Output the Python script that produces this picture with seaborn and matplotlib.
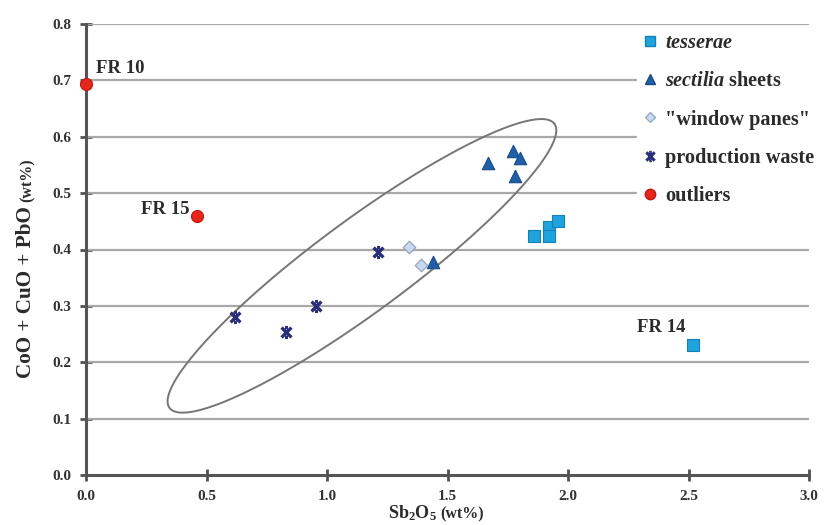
import numpy as np
import pandas as pd
import matplotlib
matplotlib.use("Agg")
import matplotlib.pyplot as plt
from matplotlib.path import Path
from matplotlib.lines import Line2D
import seaborn as sns

# ---------------- data ----------------
tesserae_x = [1.86, 1.92, 1.92, 1.96, 2.52]
tesserae_y = [0.424, 0.440, 0.424, 0.451, 0.231]

sectilia_x = [1.67, 1.77, 1.80, 1.78, 1.44]
sectilia_y = [0.554, 0.575, 0.563, 0.531, 0.378]

window_x = [1.34, 1.39]
window_y = [0.405, 0.373]

waste_x = [0.62, 0.83, 0.955, 1.21]
waste_y = [0.281, 0.254, 0.300, 0.396]

outlier_x = [0.0, 0.46]
outlier_y = [0.694, 0.460]

labels = ["tesserae", "sectilia sheets", '"window panes"', "production waste", "outliers"]
x_ticks = [0.0, 0.5, 1.0, 1.5, 2.0, 2.5, 3.0]
y_ticks = [0.0, 0.1, 0.2, 0.3, 0.4, 0.5, 0.6, 0.7, 0.8]

# annotated samples: (label, x, y)
annotations = [("FR 10", 0.0, 0.694), ("FR 15", 0.46, 0.460), ("FR 14", 2.52, 0.231)]

# ellipse (center, half major axis vector, half minor axis vector), data units
ell_center = (1.145, 0.371)
ell_major = (0.7985, 0.252)
ell_minor = (-0.113, 0.0657)

# ---------------- style ----------------
sns.set_style("white")
plt.rcParams["font.family"] = ["Liberation Serif", "DejaVu Serif"]
plt.rcParams["font.weight"] = "bold"
plt.rcParams["mathtext.fontset"] = "custom"
plt.rcParams["mathtext.rm"] = "Liberation Serif:bold"
plt.rcParams["mathtext.it"] = "Liberation Serif:italic"
plt.rcParams["mathtext.bf"] = "Liberation Serif:bold"

c_tess = "#1ea3dc"
c_sect = "#1f5fa8"
c_win = "#c9d9ef"
c_waste = "#2a2d78"
c_out = "#e5261c"
c_text = "#2b2b2b"

fig = plt.figure(figsize=(8.25, 5.25), dpi=100)
ax = fig.add_axes([86 / 825, 1 - 475 / 525, (809 - 86) / 825, (475 - 24) / 525])

# bold "x" marker with small flat caps
xverts = [(-1, -1), (1, 1), (-1, 1), (1, -1), (-0.3, 1), (0.3, 1), (-0.3, -1), (0.3, -1)]
xcodes = [Path.MOVETO, Path.LINETO] * 4
xmarker = Path(xverts, xcodes)

sns.scatterplot(x=tesserae_x, y=tesserae_y, marker="s", s=80, color=c_tess,
                edgecolor="#1580b8", linewidth=0.8, ax=ax, zorder=4, clip_on=False)
sns.scatterplot(x=sectilia_x, y=sectilia_y, marker="^", s=80, color=c_sect,
                edgecolor="#184a88", linewidth=0.8, ax=ax, zorder=4, clip_on=False)
sns.scatterplot(x=window_x, y=window_y, marker="D", s=40, color=c_win,
                edgecolor="#98aac4", linewidth=1.0, ax=ax, zorder=4, clip_on=False)
sns.scatterplot(x=waste_x, y=waste_y, marker=xmarker, s=50, color=c_waste,
                edgecolor=c_waste, linewidth=2.4, ax=ax, zorder=4, clip_on=False)
sns.scatterplot(x=outlier_x, y=outlier_y, marker="o", s=75, color=c_out,
                edgecolor="#c01810", linewidth=0.8, ax=ax, zorder=5, clip_on=False)

# ellipse
t = np.linspace(0, 2 * np.pi, 400)
ex = ell_center[0] + np.cos(t) * ell_major[0] + np.sin(t) * ell_minor[0]
ey = ell_center[1] + np.cos(t) * ell_major[1] + np.sin(t) * ell_minor[1]
ax.plot(ex, ey, color="#767676", lw=1.4, zorder=3)

# grid
for yv in y_ticks[1:]:
    ax.axhline(yv, color="#a8a8a8", lw=1.6, zorder=1)

ax.set_xlim(0, 3.0)
ax.set_ylim(0, 0.8)
ax.set_xticks(x_ticks)
ax.set_yticks(y_ticks)
ax.set_xticklabels([f"{v:.1f}" for v in x_ticks])
ax.set_yticklabels([f"{v:.1f}" for v in y_ticks])
ax.tick_params(axis="both", bottom=True, left=True, direction="inout", length=9, width=2,
               color="#505050", labelsize=11, labelcolor="#333333", pad=6)
for lab in ax.get_xticklabels() + ax.get_yticklabels():
    lab.set_fontweight("bold")
for side in ["top", "right"]:
    ax.spines[side].set_visible(False)
for side in ["left", "bottom"]:
    ax.spines[side].set_color("#555555")
    ax.spines[side].set_linewidth(2.2)
    ax.spines[side].set_zorder(2)

# annotations
offsets = {"FR 10": (10, 11, "left"), "FR 15": (-7, 2, "right"), "FR 14": (-8, 13, "right")}
for name, xv, yv in annotations:
    dx, dy, ha = offsets[name]
    ax.annotate(name, (xv, yv), xytext=(dx, dy), textcoords="offset pixels",
                ha=ha, va="baseline", fontsize=13.5, fontweight="bold", color=c_text)

# legend
handles = [
    Line2D([], [], ls="", marker="s", ms=7, mfc=c_tess, mec="#1580b8"),
    Line2D([], [], ls="", marker="^", ms=7.5, mfc=c_sect, mec="#184a88"),
    Line2D([], [], ls="", marker="D", ms=5, mfc=c_win, mec="#98aac4"),
    Line2D([], [], ls="", marker=xmarker, ms=6, mfc=c_waste, mec=c_waste, mew=2.2),
    Line2D([], [], ls="", marker="o", ms=7.5, mfc=c_out, mec="#c01810"),
]
leg_labels = [r"$\mathit{tesserae}$", r"$\mathit{sectilia}$ sheets", labels[2], labels[3], labels[4]]
leg = fig.legend(handles, leg_labels, loc="upper left",
                 bbox_to_anchor=(637 / 825, 1 - 27 / 525), frameon=True, fancybox=False,
                 facecolor="white", edgecolor="white", framealpha=1,
                 prop={"size": 14.6, "weight": "bold"}, handlelength=0.7,
                 handletextpad=0.4, labelspacing=0.9, borderpad=0.3, borderaxespad=0)
for txt in leg.get_texts():
    txt.set_color(c_text)

# axis labels
fig.text(437 / 825, 1 - 518 / 525, r"Sb$_2$O$_5$", ha="right", va="baseline",
         fontsize=13, fontweight="bold", color=c_text)
fig.text(440 / 825, 1 - 518 / 525, "(wt%)", ha="left", va="baseline",
         fontsize=11.5, fontweight="bold", color=c_text)
fig.text(36.5 / 825, 1 - 378 / 525, "CoO + CuO + PbO", rotation=90, ha="right", va="bottom",
         fontsize=15.2, fontweight="bold", color=c_text)
fig.text(35.5 / 825, 1 - 202 / 525, "(wt%)", rotation=90, ha="right", va="bottom",
         fontsize=11.5, fontweight="bold", color=c_text)

fig.savefig("out.png", dpi=100)
